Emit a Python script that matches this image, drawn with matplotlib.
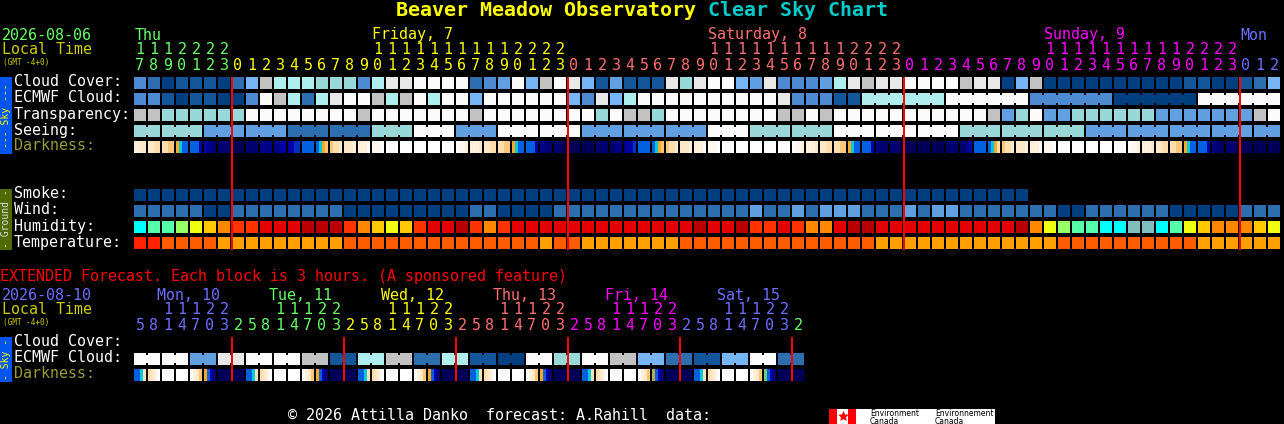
import matplotlib
matplotlib.use('Agg')
import matplotlib.pyplot as plt

# hour labels for the hourly chart, one per block
hours = [17, 18, 19, 20, 21, 22, 23,
         0, 1, 2, 3, 4, 5, 6, 7, 8, 9, 10, 11, 12, 13, 14, 15, 16, 17, 18, 19, 20, 21, 22, 23,
         0, 1, 2, 3, 4, 5, 6, 7, 8, 9, 10, 11, 12, 13, 14, 15, 16, 17, 18, 19, 20, 21, 22, 23,
         0, 1, 2, 3, 4, 5, 6, 7, 8, 9, 10, 11, 12, 13, 14, 15, 16, 17, 18, 19, 20, 21, 22, 23,
         0, 1, 2]
ext_hours = [5, 8, 11, 14, 17, 20, 23, 2] * 6

# one character per block, see palettes below
cloud = ("3201110" "25877766637" "99a" "aaa234a58a"
         "951411196" "9aa5493334" "79" "899aaaa899058"
         "00000000001100125")
ecmwf = ("3310110" "03a87279aa878a" "7aa5aaaaaa"
         "53957aaaaaaaaaa933311" "777777aaaaaa" "333333" "000000aaaaaa")
transparency = ("8866666" "6aaaaaaaa8aaaa" "aaa8aaaaaa"
                "aa6a886aaaaaaaa88a8aa" "aaaaaaaaa8" "46a" "44666666" "44444448a")
seeing = ("66" "666" "444" "444" "222" "222" "666" "aaa" "444" "aaa" "aaa" "444" "444" "444"
          "aaa" "666" "666" "aaa" "aaa" "aaa" "666" "666" "666" "444" "444" "444" "444" "44")
smoke = "0000000000000000000000000000000000000000000000000000000000000000"
wind = ("2222200" "22222222000000" "0002200002" "2222222222222" "42242444"
        "2224244222222" "20022222200000222")
humidity = ("cmmgyon" "rreeedddrnoyor" "eedrnreeee" "eeeeeeeee" "deed" "rrernned"
            "deeeeeeeeeedn" "ygmmccttcmyonnnoy")
temperature = ("rrppppa" "aaaaaaaapppppp" "ppppppppap" "paaaaaaappppppppppppp"
               "paaaaaaaaaaaa" "apppppppppp" "aaaaaa")

# darkness has 4 samples inside every block
darkness = ['ttss', 'ssqq', 'qqpp', 'ocbb', 'bbbk', 'kmmN', 'NNNN',
            'nnnn', 'NNNN', 'mmmm', 'mmkk', 'kkKK', 'bbbb', 'bcop', 'pqqs', 'ssst', 'tttu', 'uuuw',
            'wwww', 'wwww', 'wwww', 'wwww', 'wwww', 'wuut', 'ttts', 'ssqq', 'qqpp', 'ocbb', 'bbbk',
            'mmNN', 'NNnn',
            'nnnn', 'nnnn', 'NNNN', 'NNmm', 'mkkK', 'bbbb', 'bcop', 'pqqs', 'ssst', 'tttu', 'uuuw',
            'wwww', 'wwww', 'wwww', 'wwww', 'wwww', 'wuut', 'ttts', 'ssqq', 'qqpp', 'ocbb', 'bbbk',
            'mNNN', 'NNNn',
            'nnnn', 'nnnn', 'nnnn', 'NNNN', 'NNmk', 'bbbb', 'bcoq', 'pqqs', 'ssst', 'tttu', 'uuuw',
            'wwww', 'wwww', 'wwww', 'wwww', 'wwww', 'wuut', 'ttts', 'ssqq', 'qqpp', 'ocbb', 'bbbk',
            'mNNn', 'NNNn',
            'nnnn', 'nnnn', 'nnnn']

ext_ecmwf = "aaaa4499aaaa881177882277110" "0aa66aa88552211" "55aa22"
ext_darkness = ['bbcq', 'qstw', 'wwww', 'wwww', 'wtsp', 'obkN', 'nnnn', 'nnnn',
                'bbcq', 'qstw', 'wwww', 'wwww', 'wtsp', 'obkN', 'nnnn', 'nnnn',
                'bbcq', 'qstw', 'wwww', 'wwww', 'wtsp', 'obkN', 'nnnn', 'nnnn',
                'bbcq', 'qstw', 'wwww', 'wwww', 'wtsp', 'obkN', 'nnnn', 'nnnn',
                'bbcq', 'qstw', 'wwww', 'wwww', 'wtsp', 'ybkN', 'nnnn', 'nnnn',
                'bbcq', 'qstw', 'wwww', 'wwww', 'wtsp', 'gbkN', 'nnnn', 'nnnn']

sky_colors = {'0': '#003F7F', '1': '#13569A', '2': '#2C6EAE', '3': '#4C8BD2', '4': '#60A0E0',
              '5': '#76B6F6', '6': '#98D8D8', '7': '#AEEEEE', '8': '#C2C2C2', '9': '#E8E8E8',
              'a': '#FBFBFB'}
hum_colors = {'c': '#00FFFF', 'm': '#55FFAA', 'g': '#99FF66', 'y': '#EEFF11', 'o': '#FFC800',
              'n': '#FF8800', 'r': '#FF3300', 'e': '#E30000', 'd': '#B80000', 't': '#80BFBF'}
temp_colors = {'r': '#FF2200', 'p': '#FF5C00', 'a': '#FFA000'}
dark_colors = {'n': '#000058', 'N': '#000070', 'm': '#000088', 'k': '#0000A8', 'K': '#0030C0',
               'b': '#0060E0', 'c': '#00C8E0', 'g': '#60D080', 'y': '#B8B050', 'o': '#F8A820',
               'p': '#F8C878', 'q': '#FDDCAE', 's': '#FDE8C8', 't': '#FFF0DC', 'u': '#FFF8F0',
               'w': '#FFFFFF'}

GREEN = '#66FF66'
YELLOW = '#FFFF00'
SALMON = '#FF7070'
MAGENTA = '#FF00FF'
BLUE = '#6E6EFF'
MONO = 'DejaVu Sans Mono'

LEFT = 134
PITCH = 14
CELL = 12

fig = plt.figure(figsize=(12.84, 4.24), dpi=100, facecolor='black')
ax = fig.add_axes([0, 0, 1, 1])
ax.set_xlim(0, 1284)
ax.set_ylim(424, 0)
ax.axis('off')


def block(x, y, w, h, color, z=2):
    ax.bar(x, h, width=w, bottom=y, align='edge', color=color, linewidth=0, zorder=z)


def row(values, colors, y, joined=None):
    for i, v in enumerate(values):
        block(LEFT + i * PITCH, y, CELL, CELL, colors[v])
        # neighbours from one forecast step are tied by a narrow bridge
        if joined is not None and i > 0 and joined(i):
            block(LEFT + i * PITCH - 2, y + 2, 2, 8, colors[v])


def dark_row(values, y):
    for i, samples in enumerate(values):
        for k, s in enumerate(samples):
            block(LEFT + i * PITCH + k * 3, y, 3, CELL, dark_colors[s])


def txt(x, y, s, color='white', size=10.8, **kw):
    ax.text(x, y, s, color=color, fontsize=size, family=MONO, va='center', **kw)


def day_color(i, starts, colors):
    c = colors[0]
    for st, col in zip(starts, colors):
        if i >= st:
            c = col
    return c


# title
txt(396, 11, 'Beaver Meadow Observatory', YELLOW, 14.4, weight='bold')
txt(708, 11, 'Clear Sky Chart', '#00CCCC', 14.4, weight='bold')

# hourly header
txt(2, 35, '2026-08-06', GREEN)
txt(2, 50, 'Local Time', '#CCCC00')
txt(3, 62, '(GMT -4+0)', '#CCCC00', 5.6)
txt(135, 35, 'Thu', GREEN)
txt(372, 35, 'Friday, 7', YELLOW)
txt(708, 35, 'Saturday, 8', SALMON)
txt(1044, 35, 'Sunday, 9', MAGENTA)
txt(1240, 35, 'Mon', BLUE)

starts = [0, 7, 31, 55, 79]
day_cols = [GREEN, YELLOW, SALMON, MAGENTA, BLUE]
for i, h in enumerate(hours):
    c = day_color(i, starts, day_cols)
    if h >= 10:
        txt(LEFT + i * PITCH + 6, 50, str(h // 10), c, ha='center')
    txt(LEFT + i * PITCH + 6, 65, str(h % 10), c, ha='center')

# sky rows
for y, label in zip([82, 98, 114, 130], ['Cloud Cover:', 'ECMWF Cloud:', 'Transparency:', 'Seeing:']):
    txt(14, y, label)
txt(14, 146, 'Darkness:', '#999933')
for y, label in zip([194, 210, 226, 242], ['Smoke:', 'Wind:', 'Humidity:', 'Temperature:']):
    txt(14, y, label)

row(cloud, sky_colors, 77)
row(ecmwf, sky_colors, 93, lambda i: i > 52 and (i - 52) % 6 != 0)
row(transparency, sky_colors, 109)
row(seeing, sky_colors, 125, lambda i: (i - 2) % 3 != 0)
dark_row(darkness, 141)
row(smoke, sky_colors, 189)
row(wind, sky_colors, 205)
row(humidity, hum_colors, 221)
row(temperature, temp_colors, 237)

block(0, 77, 12, 77, '#0055EE')
txt(6, 115.5, '--- Sky ---', YELLOW, 7, rotation=90, ha='center')
block(0, 189, 12, 61, '#4F6A00')
txt(6, 219, '- Ground -', '#DDDDDD', 7, rotation=90, ha='center')

# midnight markers
for i in [7, 31, 55, 79]:
    block(LEFT + i * PITCH - 1, 77, 2, 173, '#FF0000', 3)

# extended forecast
txt(0, 276, 'EXTENDED Forecast. Each block is 3 hours. (A sponsored feature)', '#FF0000')
txt(2, 295, '2026-08-10', BLUE)
txt(2, 310, 'Local Time', '#CCCC00')
txt(3, 322, '(GMT -4+0)', '#CCCC00', 5.6)
for x, label, c in zip([157, 269, 381, 493, 605, 717],
                       ['Mon, 10', 'Tue, 11', 'Wed, 12', 'Thu, 13', 'Fri, 14', 'Sat, 15'],
                       [BLUE, GREEN, YELLOW, SALMON, MAGENTA, BLUE]):
    txt(x, 295, label, c)

ext_starts = [0, 7, 15, 23, 31, 39, 47]
ext_cols = [BLUE, GREEN, YELLOW, SALMON, MAGENTA, BLUE, GREEN]
for i, h in enumerate(ext_hours):
    c = day_color(i, ext_starts, ext_cols)
    if h >= 10:
        txt(LEFT + i * PITCH + 6, 310, str(h // 10), c, ha='center')
    txt(LEFT + i * PITCH + 6, 325, str(h % 10), c, ha='center')

txt(14, 342, 'Cloud Cover:')
txt(14, 358, 'ECMWF Cloud:')
txt(14, 374, 'Darkness:', '#999933')

row(ext_ecmwf, sky_colors, 353, lambda i: i % 2 == 1)
dark_row(ext_darkness, 369)

block(0, 337, 12, 45, '#0055EE')
txt(6, 359.5, '- Sky -', YELLOW, 7, rotation=90, ha='center')

for i in [7, 15, 23, 31, 39, 47]:
    block(LEFT + i * PITCH - 1, 337, 2, 44, '#FF0000', 3)

# footer and logo
txt(288, 415, '\u00a9 2026 Attilla Danko  forecast: A.Rahill  data:')
block(829, 409, 166, 15, 'white')
block(829, 409, 8, 15, '#FF0000', 3)
block(848, 409, 8, 15, '#FF0000', 3)
ax.scatter([842.5], [416], marker=(5, 1), s=60, color='#FF0000', linewidths=0, zorder=3)
ax.text(870, 413, 'Environment', color='black', fontsize=5.5, family='DejaVu Sans', va='center', zorder=4)
ax.text(870, 421, 'Canada', color='black', fontsize=5.5, family='DejaVu Sans', va='center', zorder=4)
ax.text(935, 413, 'Environnement', color='black', fontsize=5.5, family='DejaVu Sans', va='center', zorder=4, clip_on=True)
ax.text(935, 421, 'Canada', color='black', fontsize=5.5, family='DejaVu Sans', va='center', zorder=4)

fig.savefig('out.png', dpi=100, facecolor='black')
